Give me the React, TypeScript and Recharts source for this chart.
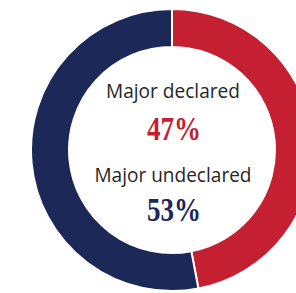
import React from "react";
import { PieChart, Pie, Cell, Label } from "recharts";

const categories = ["Major declared", "Major undeclared"];
const values = [47, 53];
const valueLabels = ["47%", "53%"];
const colors = ["#C42032", "#1B2858"];

const data = categories.map((name, i) => ({ name, value: values[i] }));

const CX = 172;
const CY = 150;

const CenterLabel = (props: any) => {
  const vb = props.viewBox || {};
  const cx = vb.cx ?? CX;
  const cy = vb.cy ?? CY;
  const sans = "'Open Sans', sans-serif";
  const serif = "'Liberation Serif', 'DejaVu Serif', serif";
  return (
    <g>
      <text x={cx + 1} y={cy - 52} textAnchor="middle" fill="#262626" fontFamily={sans} fontSize={20.5} fontWeight={400} textLength={134} lengthAdjust="spacingAndGlyphs">
        {categories[0]}
      </text>
      <text x={cx + 2} y={cy - 10} textAnchor="middle" fill={colors[0]} fontFamily={serif} fontWeight={700} fontSize={33} textLength={54} lengthAdjust="spacingAndGlyphs">
        {valueLabels[0]}
      </text>
      <text x={cx + 1} y={cy + 32} textAnchor="middle" fill="#262626" fontFamily={sans} fontSize={20.5} fontWeight={400} textLength={157} lengthAdjust="spacingAndGlyphs">
        {categories[1]}
      </text>
      <text x={cx + 2} y={cy + 71} textAnchor="middle" fill={colors[1]} fontFamily={serif} fontWeight={700} fontSize={33} textLength={54} lengthAdjust="spacingAndGlyphs">
        {valueLabels[1]}
      </text>
    </g>
  );
};

export default function App() {
  return (
    <div style={{ position: "absolute", left: 0, top: 0, width: 296, height: 293, background: "#fff", overflow: "hidden" }}>
      <PieChart width={296} height={293} margin={{ top: 0, right: 0, bottom: 0, left: 0 }}>
        <Pie
          data={data}
          dataKey="value"
          nameKey="name"
          cx={CX}
          cy={CY}
          innerRadius={103}
          outerRadius={141}
          startAngle={90}
          endAngle={-270}
          stroke="#ffffff"
          strokeWidth={2}
          isAnimationActive={false}
        >
          {data.map((d, i) => (
            <Cell key={d.name} fill={colors[i]} />
          ))}
          <Label position="center" content={<CenterLabel />} />
        </Pie>
      </PieChart>
    </div>
  );
}
